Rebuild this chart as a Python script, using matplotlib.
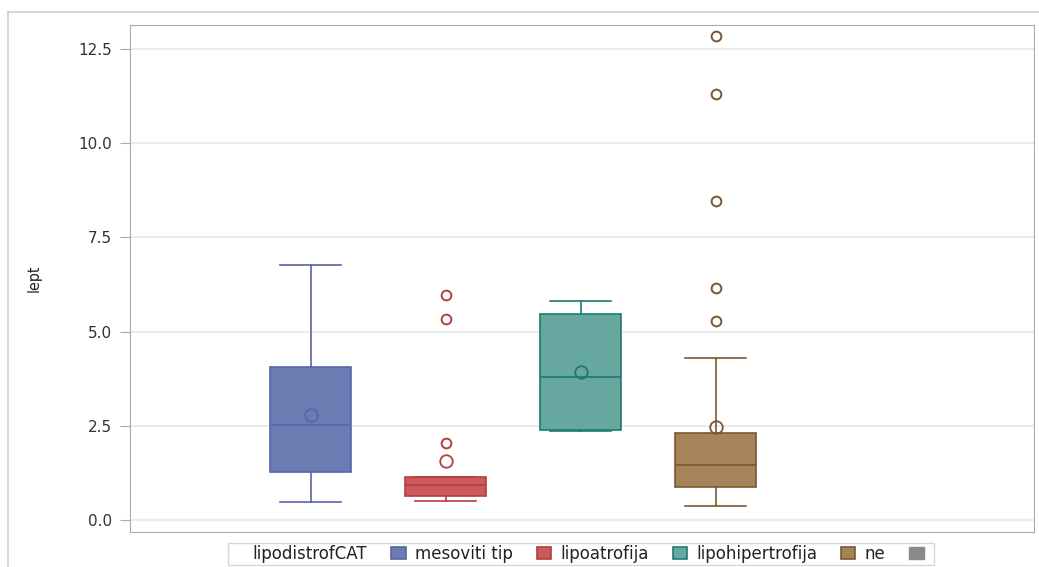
import numpy as np
import matplotlib
matplotlib.use("Agg")
import matplotlib.pyplot as plt
from matplotlib.patches import Patch, Rectangle
from matplotlib.lines import Line2D

# box statistics
groups = ["mesoviti tip", "lipoatrofija", "lipohipertrofija", "ne"]
whislo = [0.47, 0.50, 2.35, 0.36]
q1 = [1.26, 0.63, 2.40, 0.88]
med = [2.53, 0.92, 3.79, 1.45]
q3 = [4.05, 1.15, 5.48, 2.30]
whishi = [6.76, 1.15, 5.82, 4.29]
means = [2.79, 1.57, 3.94, 2.48]
fliers = [[], [5.96, 5.34, 2.05], [], [12.86, 11.30, 8.47, 6.15, 5.27]]

fills = ["#6c7cb2", "#cc5a5a", "#66a89f", "#a6845a"]
edges = ["#5866a6", "#b2403e", "#1d7a70", "#7a5632"]

fig = plt.figure(figsize=(10.39, 5.67), dpi=100)
ax = fig.add_axes([130 / 1039, 1 - 532 / 567, 904 / 1039, 507 / 567])

# outer frame (partial, like the cropped screenshot)
fig.add_artist(Line2D([8 / 1039, 8 / 1039], [0, 1 - 12 / 567], transform=fig.transFigure,
                      color="#cfcfcf", lw=1.2))
fig.add_artist(Line2D([8 / 1039, 1], [1 - 12 / 567, 1 - 12 / 567], transform=fig.transFigure,
                      color="#cfcfcf", lw=1.2))

for i, g in enumerate(groups):
    st = dict(label=g, whislo=whislo[i], q1=q1[i], med=med[i], q3=q3[i],
              whishi=whishi[i], mean=means[i], fliers=fliers[i])
    ax.bxp([st], positions=[i], widths=0.6, patch_artist=True, showmeans=True,
           boxprops=dict(facecolor=fills[i], edgecolor=edges[i], lw=1.2),
           medianprops=dict(color=edges[i], lw=1.2),
           whiskerprops=dict(color=edges[i], lw=1.2),
           capprops=dict(color=edges[i], lw=1.2),
           capwidths=0.45,
           meanprops=dict(marker="o", markerfacecolor="none", markeredgecolor=edges[i],
                          markersize=9, markeredgewidth=1.3),
           flierprops=dict(marker="o", markerfacecolor="none", markeredgecolor=edges[i],
                           markersize=7, markeredgewidth=1.4))

ax.set_xlim(-1.34, 5.36)
ax.set_ylim(-0.32, 13.14)
ax.set_yticks([0, 2.5, 5, 7.5, 10, 12.5])
ax.set_yticklabels(["0.0", "2.5", "5.0", "7.5", "10.0", "12.5"])
ax.set_xticks([])
ax.yaxis.grid(True, color="#ebebeb", lw=1.5)
ax.set_axisbelow(True)
for s in ax.spines.values():
    s.set_color("#a3abb3")
ax.tick_params(axis="y", length=7, pad=6, color="#a3abb3", labelsize=11, labelcolor="#333333")
ax.set_ylabel("lept", fontsize=11.5, color="#222222", family="DejaVu Sans",
              fontstretch="condensed")
ax.yaxis.set_label_coords(-88 / 904, 0.5)

handles = [Rectangle((0, 0), 1, 1, alpha=0)]
labels = ["lipodistrofCAT"]
for i, g in enumerate(groups):
    handles.append(Patch(facecolor=fills[i], edgecolor=edges[i], lw=1.2))
    labels.append(g)
handles.append(Patch(facecolor="#8a8a8a", edgecolor="#8a8a8a"))
labels.append("")
leg = fig.legend(handles, labels, ncol=6, loc="center", bbox_to_anchor=(581 / 1039, 1 - 554 / 567),
                 frameon=True, fancybox=False, edgecolor="#cccccc",
                 handlelength=0.85, handleheight=0.7, handletextpad=0.55, columnspacing=1.45,
                 borderpad=0.1, prop={"family": "DejaVu Sans", "size": 12})
leg.get_frame().set_linewidth(1.0)
for t in leg.get_texts():
    t.set_color("#222222")

fig.savefig("out.png", dpi=100)
